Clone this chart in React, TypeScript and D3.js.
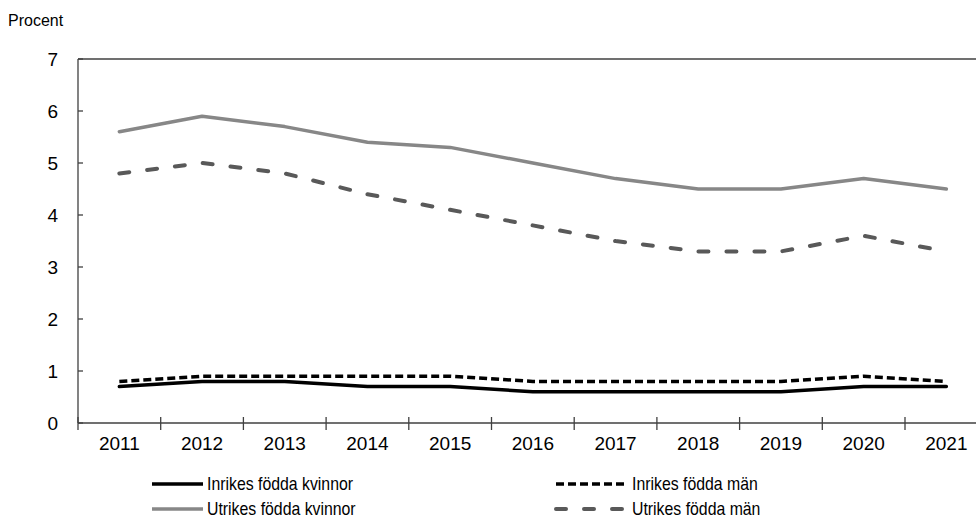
import { useEffect, useRef } from 'react';
import * as d3 from 'd3';

const years = ['2011', '2012', '2013', '2014', '2015', '2016', '2017', '2018', '2019', '2020', '2021'];
const inrikesKvinnor = [0.7, 0.8, 0.8, 0.7, 0.7, 0.6, 0.6, 0.6, 0.6, 0.7, 0.7];
const inrikesMan = [0.8, 0.9, 0.9, 0.9, 0.9, 0.8, 0.8, 0.8, 0.8, 0.9, 0.8];
const utrikesKvinnor = [5.6, 5.9, 5.7, 5.4, 5.3, 5.0, 4.7, 4.5, 4.5, 4.7, 4.5];
const utrikesMan = [4.8, 5.0, 4.8, 4.4, 4.1, 3.8, 3.5, 3.3, 3.3, 3.6, 3.3];
const yTicks = [0, 1, 2, 3, 4, 5, 6, 7];

interface Series {
  name: string;
  values: number[];
  color: string;
  dash: string | null;
  cap: string;
  width: number;
}

const series: Series[] = [
  { name: 'Utrikes födda kvinnor', values: utrikesKvinnor, color: '#878787', dash: null, cap: 'round', width: 3.5 },
  { name: 'Utrikes födda män', values: utrikesMan, color: '#595959', dash: '10,18', cap: 'round', width: 4 },
  { name: 'Inrikes födda män', values: inrikesMan, color: '#000000', dash: '8,4', cap: 'butt', width: 3.5 },
  { name: 'Inrikes födda kvinnor', values: inrikesKvinnor, color: '#000000', dash: null, cap: 'round', width: 3.5 },
];

// legend order: row by row, two columns
const legendOrder = ['Inrikes födda kvinnor', 'Inrikes födda män', 'Utrikes födda kvinnor', 'Utrikes födda män'];

const W = 976;
const H = 521;

const App = () => {
  const svgRef = useRef<SVGSVGElement>(null);

  useEffect(() => {
    if (!svgRef.current) return;
    const svg = d3.select(svgRef.current);
    svg.selectAll('*').remove();

    const left = 78;
    const top = 59;
    const bottom = 423;
    const bandW = 82.7;

    const x = d3.scaleBand<string>()
      .domain(years)
      .range([left, left + bandW * years.length])
      .paddingInner(0)
      .paddingOuter(0);

    const y = d3.scaleLinear().domain([0, 7]).range([bottom, top]);

    const axisColor = '#404040';
    const font = '"Liberation Sans", Arial, sans-serif';

    // top frame line
    svg.append('line')
      .attr('x1', left).attr('x2', W)
      .attr('y1', y(7)).attr('y2', y(7))
      .attr('stroke', axisColor).attr('stroke-width', 1.3);

    // y axis
    svg.append('line')
      .attr('x1', left).attr('x2', left)
      .attr('y1', y(0)).attr('y2', y(7))
      .attr('stroke', axisColor).attr('stroke-width', 1.3);

    svg.selectAll('line.ytick')
      .data(yTicks)
      .join('line')
      .attr('class', 'ytick')
      .attr('x1', left).attr('x2', left + 5)
      .attr('y1', d => y(d)).attr('y2', d => y(d))
      .attr('stroke', axisColor).attr('stroke-width', 1.3);

    svg.selectAll('text.ylab')
      .data(yTicks)
      .join('text')
      .attr('class', 'ylab')
      .attr('x', 58)
      .attr('y', d => y(d))
      .attr('dy', '0.35em')
      .attr('text-anchor', 'end')
      .style('font-family', font)
      .style('font-size', '19px')
      .attr('fill', '#000')
      .text(d => d);

    // x axis
    svg.append('line')
      .attr('x1', left).attr('x2', W)
      .attr('y1', y(0)).attr('y2', y(0))
      .attr('stroke', axisColor).attr('stroke-width', 1.3);

    const boundaries = years.map(yr => x(yr) as number);
    svg.selectAll('line.xtick')
      .data(boundaries)
      .join('line')
      .attr('class', 'xtick')
      .attr('x1', d => d).attr('x2', d => d)
      .attr('y1', y(0) - 6).attr('y2', y(0) + 7)
      .attr('stroke', axisColor).attr('stroke-width', 1.3);

    svg.selectAll('text.xlab')
      .data(years)
      .join('text')
      .attr('class', 'xlab')
      .attr('x', d => (x(d) as number) + x.bandwidth() / 2)
      .attr('y', 450)
      .attr('text-anchor', 'middle')
      .style('font-family', font)
      .style('font-size', '19px')
      .attr('fill', '#000')
      .text(d => d);

    svg.append('text')
      .attr('x', 8)
      .attr('y', 26)
      .style('font-family', font)
      .style('font-size', '16px')
      .attr('fill', '#000')
      .text('Procent');

    const line = d3.line<number>()
      .x((_, i) => (x(years[i]) as number) + x.bandwidth() / 2)
      .y(d => y(d));

    series.forEach(s => {
      svg.append('path')
        .datum(s.values)
        .attr('d', line)
        .attr('fill', 'none')
        .attr('stroke', s.color)
        .attr('stroke-width', s.width)
        .attr('stroke-linecap', s.cap)
        .attr('stroke-linejoin', 'round')
        .attr('stroke-dasharray', s.dash);
    });

    // legend (text slightly condensed, like the original)
    const legendX = [152, 556];
    const legendY = [484, 509];
    const sampleW = [51, 72];
    legendOrder.forEach((name, i) => {
      const s = series.find(d => d.name === name)!;
      const col = i % 2;
      const row = Math.floor(i / 2);
      const lx = legendX[col];
      const ly = legendY[row];
      svg.append('line')
        .attr('x1', lx).attr('x2', lx + sampleW[col])
        .attr('y1', ly).attr('y2', ly)
        .attr('stroke', s.color)
        .attr('stroke-width', s.width)
        .attr('stroke-linecap', s.dash ? s.cap : 'butt')
        .attr('stroke-dasharray', s.dash);
      svg.append('text')
        .attr('transform', `translate(${lx + sampleW[col] + 4},${ly}) scale(0.88,1)`)
        .attr('dy', '0.35em')
        .style('font-family', font)
        .style('font-size', '18px')
        .attr('fill', '#000')
        .text(name);
    });
  }, []);

  return (
    <div style={{ position: 'absolute', left: 0, top: 0, width: W, height: H, background: '#fff' }}>
      <svg ref={svgRef} width={W} height={H} style={{ display: 'block' }} />
    </div>
  );
};

export default App;
